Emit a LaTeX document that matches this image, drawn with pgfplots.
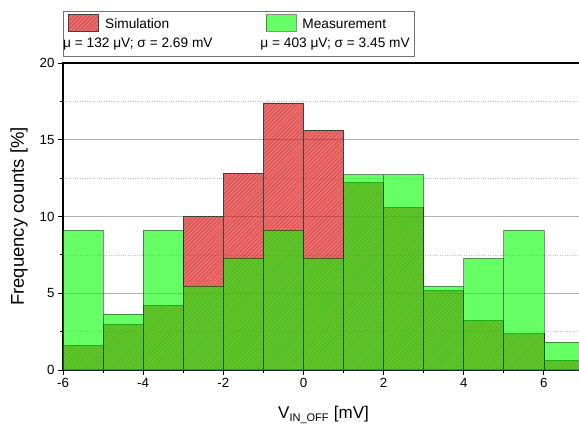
\documentclass[border=0pt]{standalone}
\usepackage{fontspec}
\setmainfont{Liberation Sans}
\usepackage{pgfplots}
\pgfplotsset{compat=1.18}
\usetikzlibrary{patterns.meta}
\pgfplotsset{boxlegend/.style={legend image code/.code={\draw[##1] (0pt,-3pt) rectangle (30pt,13.5pt);}}}

\begin{document}
\begin{tikzpicture}
\begin{axis}[name=ax, at={(0,0)}, anchor=south west,
  scale only axis, width=521pt, height=307pt,
  xmin=-6, xmax=7, ymin=0, ymax=20,
  xtick={-6,-4,...,6}, minor xtick={-5,-3,...,7},
  ytick={0,5,...,20}, minor ytick={2.5,7.5,...,17.5},
  tick align=outside, tick pos=left,
  major tick length=5pt, minor tick length=3pt,
  every tick/.style={black, line width=0.9pt},
  axis line style={line width=1.2pt},
  ymajorgrids, yminorgrids,
  major grid style={black!30, line width=0.7pt},
  minor grid style={black!25, dotted, line width=0.7pt},
  ticklabel style={font=\fontsize{13.3}{15}\selectfont},
  /pgf/number format/assume math mode=true,
  xlabel={V\textsubscript{\fontsize{11}{11}\selectfont IN\_OFF} [mV]},
  ylabel={Frequency counts [\%]},
  every axis x label/.style={at={(axis description cs:0.5,0)}, anchor=base, yshift=-48.5pt, font=\fontsize{17}{20}\selectfont},
  every axis y label/.style={at={(axis description cs:0,0.5)}, xshift=-44pt, anchor=center, rotate=90, font=\fontsize{18.5}{22}\selectfont},
  legend columns=2,
  legend style={at={(axis description cs:0,1)}, anchor=south west, yshift=6pt,
    draw=black!55, line width=0.8pt, inner xsep=5pt, inner ysep=3.5pt,
    font=\fontsize{13.7}{19}\selectfont,
    nodes={inner sep=0pt, text depth={}},
    cells={anchor=base west},
    /tikz/every odd column/.append style={column sep=0pt},
    /tikz/every even column/.append style={column sep=53pt}},
]
\addplot[ybar interval, fill=red, fill opacity=0.6, draw=black!75, line width=0.8pt,
  postaction={pattern={Lines[angle=45, distance=2.9pt, line width=0.3pt]}, pattern color=black!65}, boxlegend]
  coordinates {(-6,1.6) (-5,3.0) (-4,4.2) (-3,10.0) (-2,12.8) (-1,17.4) (0,15.6)
               (1,12.2) (2,10.6) (3,5.2) (4,3.2) (5,2.4) (6,0.6) (7,0)};
\addlegendentry{\begin{tabular}[t]{@{}l@{}}\hspace*{6pt}Simulation\\\hspace*{-36pt}μ = 132 μV; σ = 2.69 mV\end{tabular}}
\addplot[ybar interval, fill=green, fill opacity=0.6, draw=black, draw opacity=0.45, line width=0.8pt, boxlegend]
  coordinates {(-6,9.09) (-5,3.64) (-4,9.09) (-3,5.45) (-2,7.27) (-1,9.09) (0,7.27)
               (1,12.73) (2,12.73) (3,5.45) (4,7.27) (5,9.09) (6,1.82) (7,0)};
\addlegendentry{\begin{tabular}[t]{@{}l@{}}\hspace*{6pt}Measurement\\\hspace*{-36pt}μ = 403 μV; σ = 3.45 mV\end{tabular}}
\end{axis}
\pgfresetboundingbox
\path[use as bounding box] ([xshift=-63pt,yshift=-56pt]ax.south west) rectangle ([xshift=516pt,yshift=370pt]ax.south west);
\end{tikzpicture}
\end{document}
